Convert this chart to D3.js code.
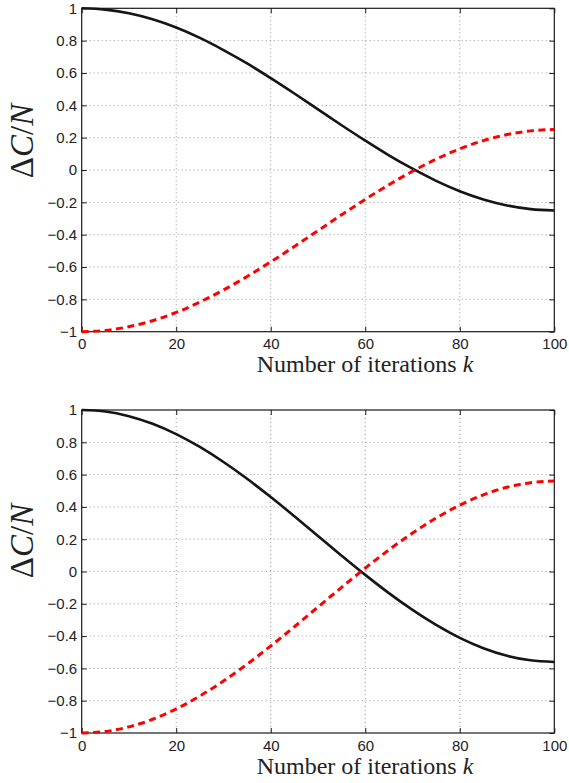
<!DOCTYPE html>
<html>
<head>
<meta charset="utf-8">
<script src="https://cdn.jsdelivr.net/npm/d3@7"></script>
<style>
  body { margin: 0; background: #fff; }
</style>
</head>
<body>
<svg id="chart"></svg>
<script>
// iterations k where values were read
const kValues = [0, 5, 10, 15, 20, 25, 30, 35, 40, 45, 50, 55, 60, 65, 70, 75, 80, 85, 90, 95, 100];

// top panel
const topBlack = [1.0, 0.992, 0.969, 0.932, 0.881, 0.817, 0.742, 0.659, 0.568, 0.473, 0.375,
  0.277, 0.182, 0.091, 0.008, -0.067, -0.131, -0.182, -0.219, -0.242, -0.25];
const topRed = [-1.0, -0.992, -0.969, -0.932, -0.881, -0.817, -0.742, -0.659, -0.568, -0.473, -0.375,
  -0.277, -0.182, -0.091, -0.008, 0.067, 0.131, 0.182, 0.219, 0.242, 0.25];

// bottom panel
const bottomBlack = [1.0, 0.991, 0.962, 0.915, 0.851, 0.771, 0.678, 0.574, 0.461, 0.342, 0.22,
  0.098, -0.021, -0.134, -0.238, -0.331, -0.411, -0.475, -0.522, -0.55, -0.56];
const bottomRed = [-1.0, -0.991, -0.962, -0.915, -0.851, -0.771, -0.678, -0.574, -0.461, -0.342, -0.22,
  -0.098, 0.021, 0.134, 0.238, 0.331, 0.411, 0.475, 0.522, 0.55, 0.56];

const xTicks = [0, 20, 40, 60, 80, 100];
const yTicks = [-1, -0.8, -0.6, -0.4, -0.2, 0, 0.2, 0.4, 0.6, 0.8, 1];

const size = { width: 569, height: 783 };
const left = 81.7, right = 554.3;
const panels = [
  { top: 8.3, bottom: 331.7, black: topBlack, red: topRed, ylabelY: 141 },
  { top: 410, bottom: 733, black: bottomBlack, red: bottomRed, ylabelY: 541 }
];

const svg = d3.select("#chart")
  .attr("width", size.width)
  .attr("height", size.height);

const x = d3.scaleLinear().domain([0, 100]).range([left, right]);

panels.forEach((p) => {
  const y = d3.scaleLinear().domain([-1, 1]).range([p.bottom, p.top]);
  const g = svg.append("g");

  // dotted grid
  xTicks.slice(1, -1).forEach((t) => {
    g.append("line")
      .attr("x1", x(t)).attr("x2", x(t))
      .attr("y1", p.top).attr("y2", p.bottom)
      .attr("stroke", "#8a8a8a")
      .attr("stroke-width", 0.9)
      .attr("stroke-dasharray", "1,3");
  });
  yTicks.slice(1, -1).forEach((t) => {
    g.append("line")
      .attr("x1", left).attr("x2", right)
      .attr("y1", y(t)).attr("y2", y(t))
      .attr("stroke", "#8a8a8a")
      .attr("stroke-width", 0.9)
      .attr("stroke-dasharray", "1,3");
  });

  // frame
  g.append("rect")
    .attr("x", left).attr("y", p.top)
    .attr("width", right - left).attr("height", p.bottom - p.top)
    .attr("fill", "none")
    .attr("stroke", "#1a1a1a")
    .attr("stroke-width", 1.2);

  // axes, ticks pointing inward
  const fmt = d3.format("");
  const axisL = g.append("g")
    .attr("transform", `translate(${left},0)`)
    .call(d3.axisLeft(y).tickValues(yTicks).tickSize(-5).tickSizeOuter(0).tickPadding(4.5).tickFormat(fmt));
  const axisR = g.append("g")
    .attr("transform", `translate(${right},0)`)
    .call(d3.axisRight(y).tickValues(yTicks).tickSize(-5).tickSizeOuter(0).tickFormat(""));
  const axisB = g.append("g")
    .attr("transform", `translate(0,${p.bottom})`)
    .call(d3.axisBottom(x).tickValues(xTicks).tickSize(-5).tickSizeOuter(0).tickPadding(7).tickFormat(fmt));
  const axisT = g.append("g")
    .attr("transform", `translate(0,${p.top})`)
    .call(d3.axisTop(x).tickValues(xTicks).tickSize(-5).tickSizeOuter(0).tickFormat(""));
  [axisL, axisR, axisB, axisT].forEach((a) => {
    a.select(".domain").remove();
    a.selectAll(".tick line").attr("stroke", "#1a1a1a");
    a.selectAll(".tick text")
      .style("font-family", "'Liberation Sans', Arial, sans-serif")
      .style("font-size", "15px")
      .attr("fill", "#222");
  });

  const line = d3.line()
    .x((d, i) => x(kValues[i]))
    .y((d) => y(d))
    .curve(d3.curveMonotoneX);

  g.append("path")
    .datum(p.black)
    .attr("d", line)
    .attr("fill", "none")
    .attr("stroke", "#151515")
    .attr("stroke-width", 2.6);

  g.append("path")
    .datum(p.red)
    .attr("d", line)
    .attr("fill", "none")
    .attr("stroke", "#ff0000")
    .attr("stroke-width", 3)
    .attr("stroke-dasharray", "7,4.5");

  // x label
  g.append("text")
    .attr("x", 365)
    .attr("y", p.bottom + 40.5)
    .attr("text-anchor", "middle")
    .style("font-family", "'Liberation Serif', 'Times New Roman', serif")
    .style("font-size", "24px")
    .attr("fill", "#222")
    .html('Number of iterations <tspan font-style="italic">k</tspan>');

  // y label
  g.append("text")
    .attr("transform", `translate(33,${p.ylabelY}) rotate(-90)`)
    .attr("text-anchor", "middle")
    .style("font-family", "'Liberation Serif', 'Times New Roman', serif")
    .style("font-size", "33px")
    .attr("fill", "#222")
    .html('Δ<tspan font-style="italic">C</tspan>/<tspan font-style="italic">N</tspan>');
});
</script>
</body>
</html>
